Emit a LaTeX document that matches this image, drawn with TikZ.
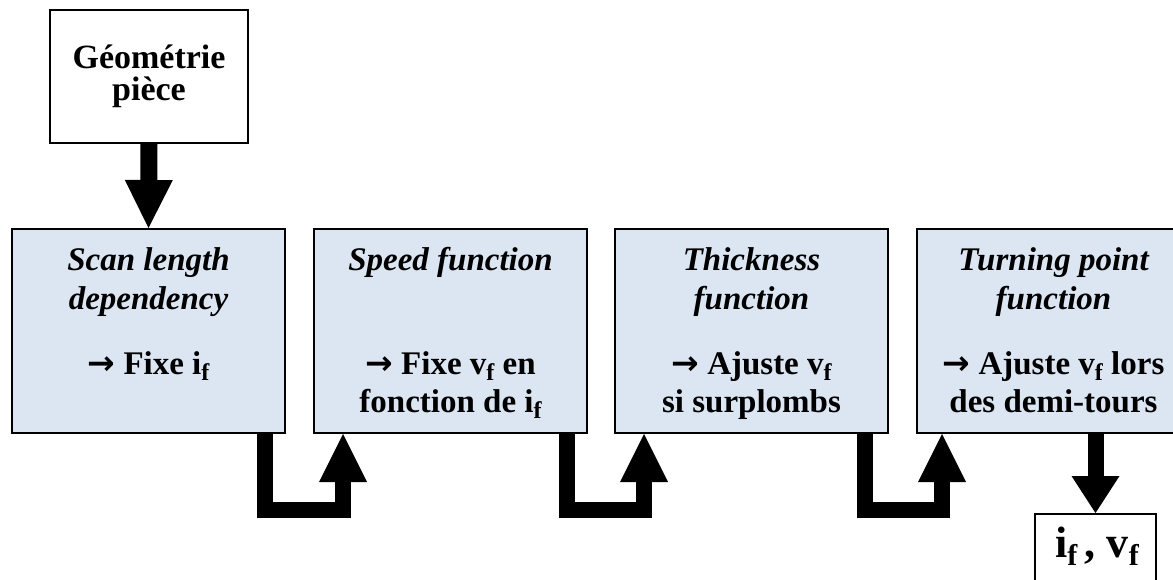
\documentclass[tikz,border=0pt]{standalone}
\usepackage{fontspec}
\setmainfont{Liberation Serif}
\newfontfamily\arrowfont{DejaVu Sans}
\usetikzlibrary{arrows.meta, positioning, calc}

\definecolor{boxblue}{RGB}{220,230,242}
\newcommand{\lo}[2][24]{\raisebox{-0.2em}{\fontsize{#1}{#1}\selectfont #2}}
\newcommand{\ra}{{\arrowfont\bfseries →}}
\newcommand{\ttlfont}{\fontsize{33}{39}\selectfont\bfseries\itshape}
\newcommand{\bodyfont}{\fontsize{33}{38}\selectfont\bfseries}

\begin{document}
\begin{tikzpicture}[x=1pt, y=-1pt, >={Triangle[width=48pt, length=48pt, line width=0pt]}]
    \useasboundingbox (0,0) rectangle (1173,580);
    \tikzset{
        fbox/.style={draw, line width=2pt, fill=boxblue, minimum width=273pt, minimum height=204pt, inner sep=0pt},
        wbox/.style={draw, line width=2pt, fill=white, inner sep=0pt},
        ttl/.style={font=\ttlfont, align=center, anchor=base, inner sep=0pt},
        body/.style={font=\bodyfont, align=center, anchor=base, inner sep=0pt},
        bigarrow/.style={->, line width=16pt, line join=miter},
    }
    % input (anchor base = last line)
    \node[wbox, minimum width=198pt, minimum height=133pt] (geo) at (149,76.5) {};
    \node[font=\fontsize{34}{32}\selectfont\bfseries, align=center, anchor=base, inner sep=0pt] (geoT) at ($(geo.north)+(0,92)$) {Géométrie\\pièce};
    % the four functions
    \node[fbox] (scan) at (148.5,331) {};
    \node[fbox, right=27pt of scan] (speed) {};
    \node[fbox, right=26pt of speed] (thick) {};
    \node[fbox, right=27pt of thick] (turn) {};
    \node[ttl] (scanT) at ($(scan.north)+(0,81)$) {Scan length\\dependency};
    \node[ttl] (speedT) at ($(speed.north)+(0,42)$) {Speed function};
    \node[ttl] (thickT) at ($(thick.north)+(0,81)$) {Thickness\\function};
    \node[ttl] (turnT) at ($(turn.north)+(0,81)$) {Turning point\\function};
    \node[body] (scanB) at ($(scan.north)+(0,146)$) {\ra\ Fixe i\lo{f}};
    \node[body] (speedB) at ($(speed.north)+(0,184)$) {\ra\ Fixe v\lo{f} en\\fonction de i\lo{f}};
    \node[body] (thickB) at ($(thick.north)+(0,184)$) {\ra\ Ajuste v\lo{f}\\si surplombs};
    \node[body] (turnB) at ($(turn.north)+(0,184)$) {\ra\ Ajuste v\lo{f} lors\\des demi-tours};
    % output
    \node[wbox, minimum width=121pt, minimum height=80pt] (res) at (1095.5,554) {};
    \node[font=\fontsize{44}{44}\selectfont\bfseries, anchor=base, inner sep=0pt] (resT) at (1097,557) {i\lo[30]{f}\,, v\lo[30]{f}};

    \draw[bigarrow, line width=17pt] (geo.south) -- (scan.north);
    \draw[bigarrow] ([xshift=-21pt]scan.south east) -- ++(0,76) -| ([xshift=30pt]speed.south west);
    \draw[bigarrow] ([xshift=-21pt]speed.south east) -- ++(0,76) -| ([xshift=30pt]thick.south west);
    \draw[bigarrow] ([xshift=-24pt]thick.south east) -- ++(0,76) -| ([xshift=26pt]turn.south west);
    \draw[bigarrow, -{Triangle[width=48pt, length=37pt, line width=0pt]}] (res.north |- turn.south) -- (res.north);
\end{tikzpicture}
\end{document}
